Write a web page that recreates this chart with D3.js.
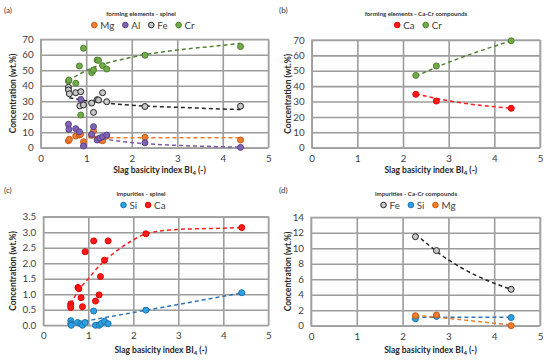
<!DOCTYPE html>
<html>
<head>
<meta charset="utf-8">
<script src="https://cdn.jsdelivr.net/npm/d3@7"></script>
<style>
body { margin: 0; background: #fff; }
text { font-family: Lato, "Open Sans", sans-serif; }
</style>
</head>
<body>
<script>
var width = 550, height = 360;

// x ticks shared by all four panels
var xTicks = [0, 1, 2, 3, 4, 5];
var yTicksA = [0, 10, 20, 30, 40, 50, 60, 70];
var yTicksC = [0, 0.5, 1, 1.5, 2, 2.5, 3, 3.5];
var yTicksD = [0, 2, 4, 6, 8, 10, 12, 14];

// (a) forming elements - spinel  [BI4, wt.%]
var spinelMg = [[0.61,4.5],[0.63,5.4],[0.77,7.5],[0.85,8.2],[0.88,8.8],[0.94,3.9],[1.12,8],[1.16,10.8],[1.24,5.6],[1.30,5],[1.36,4.5],[1.45,7.5],[2.29,6.7],[4.39,5]];
var spinelAl = [[0.61,15.1],[0.62,11.8],[0.77,12.3],[0.85,10.3],[0.88,31.2],[0.94,1.1],[1.12,8.6],[1.16,13.6],[1.24,5],[1.30,6.2],[1.36,7.1],[1.45,8.2],[2.29,3.2],[4.39,0.2]];
var spinelFe = [[0.61,39],[0.61,37.3],[0.63,34.8],[0.77,35.5],[0.88,36.2],[0.86,27],[0.94,27.6],[1.12,28.8],[1.24,31],[1.27,30.8],[1.16,22.8],[1.36,35.5],[1.45,29.7],[2.29,26.6],[4.39,26.8]];
var spinelCr = [[0.61,43],[0.62,43.7],[0.77,41.6],[0.85,52.8],[0.94,64.2],[0.88,21.1],[1.12,48.5],[1.16,50.2],[1.24,56.6],[1.27,56.4],[1.36,53],[1.45,50.8],[2.29,59.7],[4.39,65.3]];
// trend lines
var trendSpinelMg = [[1.05,6.5],[4.39,6.5]];
var trendSpinelAl = [[1.05,7.1],[2,3.3],[3,1.5],[4,0.6],[4.39,0.3]];
var trendSpinelFe = [[0.63,32.3],[1,30.4],[2,27.4],[3,26.1],[4,25],[4.39,24.6]];
var trendSpinelCr = [[0.6,43.3],[1,49.8],[2,58.4],[3,63.1],[4,66.1],[4.39,67.4]];

// (b) forming elements - Ca-Cr compounds
var compCa = [[2.28,34.7],[2.73,30.3],[4.37,25.6]];
var compCr = [[2.28,47],[2.73,53.1],[4.37,69.5]];
var trendCompCa = [[2.28,35],[3,30.5],[4.37,25.6]];
var trendCompCr = [[2.28,46.5],[3,55.5],[4.37,69.5]];

// (c) impurities - spinel
var spinelSi = [[0.61,0.15],[0.61,0.05],[0.62,0],[0.76,0.09],[0.83,0.05],[0.87,0],[0.93,0.09],[1.12,0.46],[1.16,0],[1.24,0],[1.29,0.06],[1.36,0.13],[1.44,0.05],[2.28,0.49],[4.41,1.05]];
var spinelCa = [[0.61,0.69],[0.61,0.63],[0.61,0.57],[0.77,1.22],[0.79,1.18],[0.84,0.89],[0.87,0.6],[0.93,2.37],[1.12,2.72],[1.16,0.78],[1.24,0.98],[1.27,1.57],[1.36,2.1],[1.44,2.72],[2.28,2.95],[4.41,3.15]];
var trendSpinelSi = [[0.61,0.05],[4.41,1.04]];
var trendSpinelCa = [[0.61,0.69],[0.79,1.14],[1,1.5],[1.26,1.94],[1.5,2.25],[2,2.75],[2.28,2.95],[3,3.09],[4,3.13],[4.41,3.15]];

// (d) impurities - Ca-Cr compounds
var compFe = [[2.28,11.5],[2.74,9.7],[4.37,4.7]];
var compSi = [[2.28,0.9],[2.74,1.2],[4.37,1.05]];
var compMg = [[2.28,1.3],[2.74,1.38],[4.37,0]];
var trendCompFe = [[2.28,11.85],[3,8.5],[3.6,6.5],[4.37,4.7]];
var trendCompSi = [[2.28,1.08],[4.37,1.08]];
var trendCompMg = [[2.28,1.38],[4.37,0.1]];

var styles = {
    Mg: {fill: "#ed7d31", stroke: "#c55a11", line: "#ed7d31"},
    Al: {fill: "#8064b4", stroke: "#5b3f8f", line: "#7a5ba8"},
    Fe: {fill: "#c8c8c8", stroke: "#262626", line: "#262626"},
    Cr: {fill: "#70ad47", stroke: "#4f7f30", line: "#548235"},
    Ca: {fill: "#ff1a1a", stroke: "#e00000", line: "#ff2020"},
    Si: {fill: "#2aa3e0", stroke: "#1f6fb0", line: "#2e75b6"}
};

var panels = [
    {label: "(a)", title: "forming elements - spinel", ox: 0, oy: 0, box: [40.7, 39.3, 268.3, 147.7],
     yTicks: yTicksA, fmt: d3.format("d"),
     series: [["Mg", spinelMg, trendSpinelMg], ["Al", spinelAl, trendSpinelAl], ["Fe", spinelFe, trendSpinelFe], ["Cr", spinelCr, trendSpinelCr]]},
    {label: "(b)", title: "forming elements - Ca-Cr compounds", ox: 275, oy: 0, box: [36.7, 40, 265, 147.7],
     yTicks: yTicksA, fmt: d3.format("d"),
     series: [["Ca", compCa, trendCompCa], ["Cr", compCr, trendCompCr]]},
    {label: "(c)", title: "impurities - spinel", ox: 0, oy: 180, box: [43.3, 36.7, 268.3, 145.3],
     yTicks: yTicksC, fmt: d3.format(".1f"),
     series: [["Si", spinelSi, trendSpinelSi], ["Ca", spinelCa, trendSpinelCa]]},
    {label: "(d)", title: "impurities - Ca-Cr compounds", ox: 275, oy: 180, box: [36, 37.3, 265, 145.7],
     yTicks: yTicksD, fmt: d3.format("d"),
     series: [["Fe", compFe, trendCompFe], ["Si", compSi, trendCompSi], ["Mg", compMg, trendCompMg]]}
];

var svg = d3.select("body").append("svg")
    .attr("width", width).attr("height", height);

panels.forEach(function(p) {
    var g = svg.append("g").attr("transform", "translate(" + p.ox + "," + p.oy + ")");
    var x0 = p.box[0], y0 = p.box[1], x1 = p.box[2], y1 = p.box[3];
    var x = d3.scaleLinear().domain([0, 5]).range([x0, x1]);
    var y = d3.scaleLinear().domain([0, d3.max(p.yTicks)]).range([y1, y0]);

    // grid
    g.append("g").attr("transform", "translate(0," + y1 + ")")
        .call(d3.axisBottom(x).tickValues(xTicks).tickSize(-(y1 - y0)).tickFormat(""))
        .call(function(s) { s.select(".domain").remove(); })
        .selectAll("line").attr("stroke", "#9c9c9c").attr("stroke-width", 1.6);
    g.append("g").attr("transform", "translate(" + x0 + ",0)")
        .call(d3.axisLeft(y).tickValues(p.yTicks).tickSize(-(x1 - x0)).tickFormat(""))
        .call(function(s) { s.select(".domain").remove(); })
        .selectAll("line").attr("stroke", "#9c9c9c").attr("stroke-width", 1.6);
    g.append("rect").attr("x", x0).attr("y", y0).attr("width", x1 - x0).attr("height", y1 - y0)
        .attr("fill", "none").attr("stroke", "#a3a3a3").attr("stroke-width", 1.2);

    // tick labels
    var xa = g.append("g").attr("transform", "translate(0," + y1 + ")")
        .call(d3.axisBottom(x).tickValues(xTicks).tickSize(0).tickPadding(7).tickFormat(d3.format("d")));
    var ya = g.append("g").attr("transform", "translate(" + x0 + ",0)")
        .call(d3.axisLeft(y).tickValues(p.yTicks).tickSize(0).tickPadding(7).tickFormat(p.fmt));
    [xa, ya].forEach(function(a) {
        a.select(".domain").remove();
        a.selectAll("text").attr("fill", "#404040").style("font-size", "9.8px")
            .style("font-family", "Lato, sans-serif");
    });

    // axis titles
    var xt = g.append("text").attr("x", (x0 + x1) / 2 + 5).attr("y", 173)
        .attr("text-anchor", "middle").style("font-size", "8.5px").style("font-weight", "bold").attr("fill", "#262626");
    xt.append("tspan").text("Slag basicity index BI");
    xt.append("tspan").attr("dy", 2).style("font-size", "6px").text("4");
    xt.append("tspan").attr("dy", -2).text(" (-)");
    g.append("text").attr("transform", "translate(16," + ((y0 + y1) / 2) + ") rotate(-90)")
        .attr("text-anchor", "middle").style("font-size", "8.5px").style("font-weight", "bold")
        .attr("fill", "#262626").text("Concentration (wt.%)");

    // label and title
    g.append("text").attr("x", 4).attr("y", 13).style("font-size", "8px").attr("fill", "#333").text(p.label);
    g.append("text").attr("x", 141).attr("y", 16).attr("text-anchor", "middle")
        .style("font-size", "6.2px").style("font-weight", "bold").attr("fill", "#333").text(p.title);

    // legend
    var leg = g.append("g").attr("transform", "translate(0,25)");
    var cx = 0;
    p.series.forEach(function(s) {
        var st = styles[s[0]];
        var item = leg.append("g").attr("transform", "translate(" + cx + ",0)");
        item.append("circle").attr("cx", 3).attr("cy", 0).attr("r", 2.8)
            .attr("fill", st.fill).attr("stroke", st.stroke).attr("stroke-width", 1);
        var t = item.append("text").attr("x", 9).attr("y", 3.5).style("font-size", "9.8px")
            .attr("fill", "#404040").text(s[0]);
        cx += 9 + t.node().getComputedTextLength() + 8;
    });
    var lw = cx - 8;
    leg.attr("transform", "translate(" + (143 - lw / 2) + ",25)");

    // trend lines
    var line = d3.line().x(function(d) { return x(d[0]); }).y(function(d) { return y(d[1]); })
        .curve(d3.curveMonotoneX);
    p.series.forEach(function(s) {
        g.append("path").datum(s[2]).attr("d", line).attr("fill", "none")
            .attr("stroke", styles[s[0]].line).attr("stroke-width", 1.5)
            .attr("stroke-dasharray", "4,3");
    });

    // points
    p.series.forEach(function(s) {
        var st = styles[s[0]];
        g.append("g").selectAll("circle").data(s[1]).enter().append("circle")
            .attr("cx", function(d) { return x(d[0]); })
            .attr("cy", function(d) { return y(d[1]); })
            .attr("r", 3)
            .attr("fill", st.fill).attr("stroke", st.stroke).attr("stroke-width", 1);
    });
});
</script>
</body>
</html>
